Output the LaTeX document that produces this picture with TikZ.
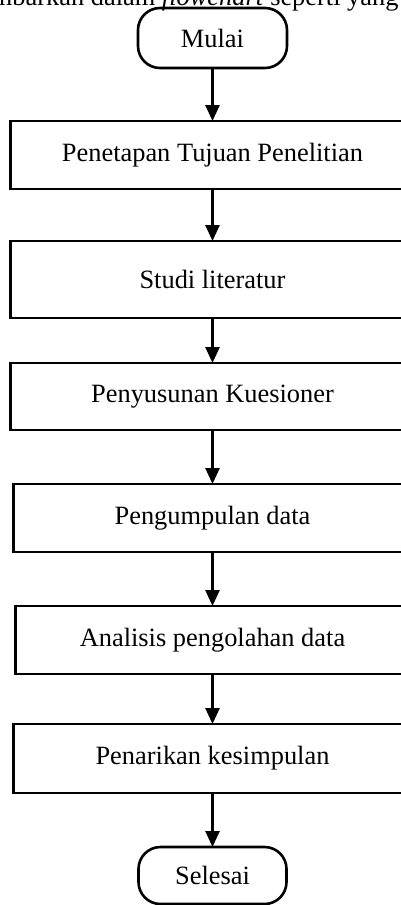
\documentclass[tikz,border=0pt]{standalone}
\usepackage{fontspec}
\setmainfont{Liberation Serif}
\usepackage{tikz}
\usetikzlibrary{arrows.meta, positioning}

\begin{document}
\begin{tikzpicture}[
      node distance=26pt,
      box/.style={draw, line width=1.3pt, align=center, font=\fontsize{13.2}{15}\selectfont,
                  minimum width=202pt, minimum height=34pt, inner sep=0pt, outer sep=0pt},
      term/.style={box, rounded corners=11pt, minimum width=74.5pt, minimum height=30pt},
      >={Triangle[width=7pt, length=8pt]}]
    \path[use as bounding box, clip] (0,0) rectangle (200.5pt,-452.5pt);
    % line of running text above the chart, cut off by the page
    \node[anchor=base west, inner sep=0pt, font=\fontsize{13.2}{15}\selectfont] (intro)
      at (-27pt,-2.5pt) {digambarkan dalam \textit{flowchart} seperti yang};
    \node[term] (mulai) at (106.25pt,-19pt) {Mulai};
    \node[box, below=26.5pt of mulai] (tujuan) {Penetapan Tujuan Penelitian};
    \node[box, below=of tujuan, minimum height=38.5pt] (studi) {Studi literatur};
    \node[box, below=22.5pt of studi, minimum height=33.5pt] (kuesioner) {Penyusunan Kuesioner};
    \node[box, below=27pt of kuesioner, minimum width=199pt] (kumpul) {Pengumpulan data};
    \node[box, below=27pt of kumpul, minimum width=197pt] (analisis) {Analisis pengolahan data};
    \node[box, below=25pt of analisis, minimum width=199pt, minimum height=34.5pt] (simpul) {Penarikan kesimpulan};
    \node[term, below=27pt of simpul, minimum width=74pt, minimum height=28.5pt] (selesai) {Selesai};
    \draw[->, line width=1.3pt] (mulai) -- (tujuan);
    \draw[->, line width=1.3pt] (tujuan) -- (studi);
    \draw[->, line width=1.3pt] (studi) -- (kuesioner);
    \draw[->, line width=1.3pt] (kuesioner) -- (kumpul);
    \draw[->, line width=1.3pt] (kumpul) -- (analisis);
    \draw[->, line width=1.3pt] (analisis) -- (simpul);
    \draw[->, line width=1.3pt] (simpul) -- (selesai);
  \end{tikzpicture}
\end{document}
